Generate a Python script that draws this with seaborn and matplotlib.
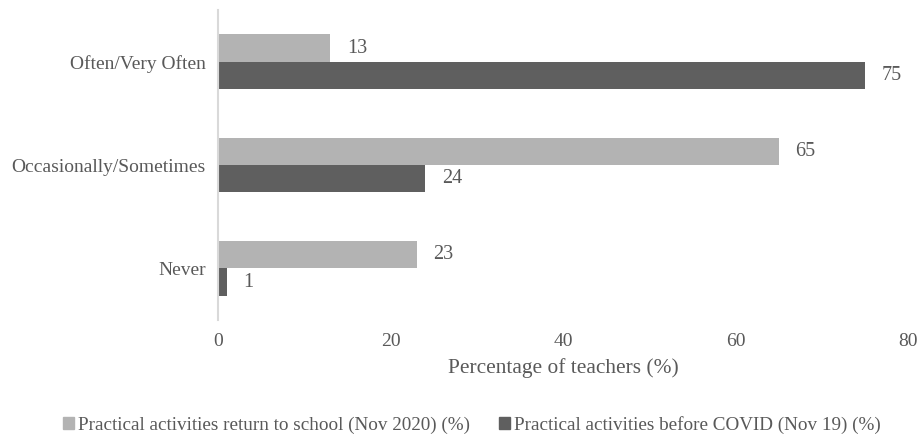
import matplotlib
matplotlib.use("Agg")
import matplotlib.pyplot as plt
import seaborn as sns
import pandas as pd

categories = ["Often/Very Often", "Occasionally/Sometimes", "Never"]
series_names = ["Practical activities return to school (Nov 2020) (%)",
                "Practical activities before COVID (Nov 19) (%)"]
return_2020 = [13, 65, 23]
before_covid = [75, 24, 1]
xticks = [0, 20, 40, 60, 80]

sns.set_theme(style="white")
plt.rcParams["font.family"] = ["Liberation Serif", "DejaVu Serif"]

df = pd.DataFrame({
    "category": categories * 2,
    "series": [series_names[0]] * 3 + [series_names[1]] * 3,
    "value": return_2020 + before_covid,
})

txt = "#595959"
fig = plt.figure(figsize=(9.24, 4.36), dpi=100)
ax = fig.add_axes([0.236, 0.266, 0.747, 0.711])
palette = ["#b3b3b3", "#5f5f5f"]
sns.barplot(data=df, y="category", x="value", hue="series", order=categories,
            hue_order=series_names, palette=palette, width=0.53, orient="h",
            ax=ax, saturation=1, edgecolor="none")

for cont in ax.containers:
    ax.bar_label(cont, fmt="%g", padding=12, fontsize=14.5, color=txt)

ax.set_xlim(0, 80)
ax.set_ylim(2.5, -0.5)
ax.set_xticks(xticks)
ax.tick_params(axis="both", length=0, labelsize=14, labelcolor=txt)
ax.tick_params(axis="y", pad=9)
ax.tick_params(axis="x", pad=9)
ax.set_ylabel("")
ax.set_xlabel("Percentage of teachers (%)", fontsize=15.4, color=txt, labelpad=6)
for s in ["top", "right", "bottom"]:
    ax.spines[s].set_visible(False)
ax.spines["left"].set_color("#d9d9d9")
ax.spines["left"].set_linewidth(1.5)

ax.legend_.remove()
handles = [plt.Rectangle((0, 0), 1, 1, color=c) for c in palette]
fig.legend(handles, series_names, loc="center", bbox_to_anchor=(0.511, 0.025),
           ncol=2, frameon=False, fontsize=13.8, handlelength=0.55, handleheight=0.55,
           handletextpad=0.25, columnspacing=1.5, labelcolor=txt)

fig.savefig("out.png", dpi=100)
